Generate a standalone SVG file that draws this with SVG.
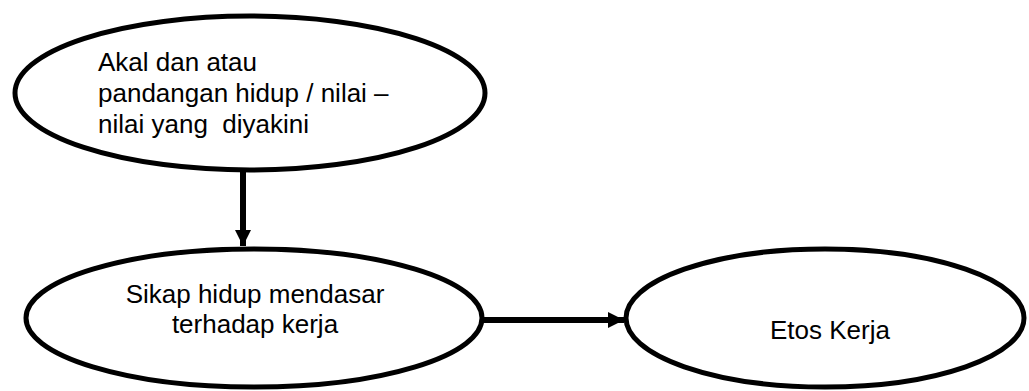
<svg xmlns="http://www.w3.org/2000/svg" width="1029" height="391" viewBox="0 0 1029 391">
<style>
.node ellipse{fill:#fff;stroke:#000;stroke-width:5}
.lbl{font-family:"Liberation Sans",Arial,sans-serif;font-size:26px;fill:#000}
.conn line{stroke:#000;stroke-width:6}
</style>
<defs>
<marker id="ah" viewBox="0 0 16 16" refX="16" refY="8" markerWidth="16" markerHeight="16" markerUnits="userSpaceOnUse" orient="auto">
<path d="M0,0 L16,8 L0,16 Z" fill="#000"/>
</marker>
</defs>
<rect width="1029" height="391" fill="#fff"/>
<g id="n1" class="node">
<ellipse cx="250" cy="93" rx="235" ry="77"/>
<text class="lbl" x="98" y="71">Akal dan atau</text>
<text class="lbl" x="98" y="102">pandangan hidup / nilai –</text>
<text class="lbl" x="98" y="133" xml:space="preserve">nilai yang  diyakini</text>
</g>
<g id="n2" class="node">
<ellipse cx="254" cy="318" rx="228" ry="69"/>
<text class="lbl" x="255" y="303" text-anchor="middle">Sikap hidup mendasar</text>
<text class="lbl" x="255" y="333" text-anchor="middle">terhadap kerja</text>
</g>
<g id="n3" class="node">
<ellipse cx="825" cy="318" rx="199" ry="69"/>
<text class="lbl" x="830" y="339" text-anchor="middle">Etos Kerja</text>
</g>
<g id="connectors" class="conn">
<line x1="243" y1="172" x2="243" y2="246" marker-end="url(#ah)"/>
<line x1="482" y1="320" x2="624" y2="320" marker-end="url(#ah)"/>
</g>
</svg>
